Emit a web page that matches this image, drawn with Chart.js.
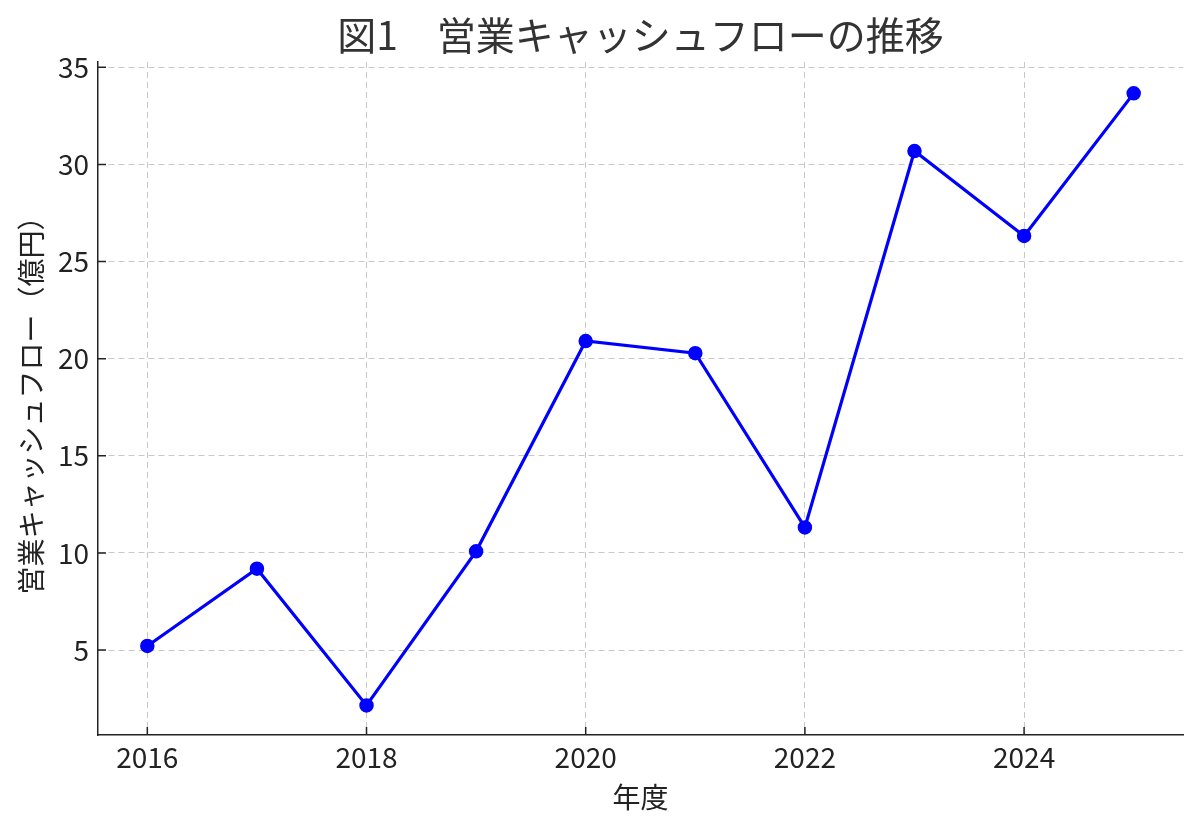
<!DOCTYPE html>
<html>
<head>
<meta charset="utf-8">
<script src="https://cdn.jsdelivr.net/npm/chart.js@4/dist/chart.umd.min.js"></script>
<style>
  html, body { margin: 0; padding: 0; background: #fff; }
  #wrap { width: 1200px; height: 832px; }
</style>
</head>
<body>
<div id="wrap"><canvas id="cfChart" width="1200" height="832"></canvas></div>
<script>
const years = [2016, 2017, 2018, 2019, 2020, 2021, 2022, 2023, 2024, 2025];
const cashFlow = [5.21, 9.19, 2.15, 10.08, 20.91, 20.28, 11.31, 30.69, 26.32, 33.66];
const xTicks = [2016, 2018, 2020, 2022, 2024];
const yTicks = [5, 10, 15, 20, 25, 30, 35];

const chartTitle = '図1　営業キャッシュフローの推移';
const xTitle = '年度';
const yTitle = '営業キャッシュフロー（億円）';

const FONT = "'Noto Sans CJK JP', 'Noto Sans', sans-serif";
const TEXT = '#222222';

// matplotlib style: title centred on the axes, ticks pointing inward
const extras = {
    id: 'extras',
    afterDraw(chart) {
        const { ctx, chartArea: a, scales: { x, y } } = chart;
        ctx.save();
        ctx.strokeStyle = '#222';
        ctx.lineWidth = 1.5;
        ctx.beginPath();
        x.ticks.forEach(t => {
            const px = x.getPixelForValue(t.value);
            ctx.moveTo(px, a.bottom);
            ctx.lineTo(px, a.bottom - 8);
        });
        y.ticks.forEach(t => {
            const py = y.getPixelForValue(t.value);
            ctx.moveTo(a.left, py);
            ctx.lineTo(a.left + 8, py);
        });
        ctx.stroke();

        ctx.fillStyle = '#333';
        ctx.font = '39px ' + FONT;
        ctx.textAlign = 'center';
        ctx.textBaseline = 'middle';
        ctx.fillText(chartTitle, (a.left + a.right) / 2, 35);
        ctx.restore();
    }
};

new Chart(document.getElementById('cfChart'), {
    type: 'line',
    data: {
        datasets: [{
            label: yTitle,
            data: years.map((yr, i) => ({ x: yr, y: cashFlow[i] })),
            borderColor: '#0000ff',
            backgroundColor: '#0000ff',
            borderWidth: 3.2,
            pointRadius: 6.5,
            pointBorderWidth: 1.5,
            pointBackgroundColor: '#0000ff',
            pointBorderColor: '#0000ff',
            tension: 0,
            clip: false,
        }]
    },
    options: {
        responsive: false,
        animation: false,
        layout: { padding: { top: 62, right: 17, bottom: 0, left: 0 } },
        plugins: {
            legend: { display: false },
            tooltip: { enabled: false },
            title: { display: false }
        },
        scales: {
            x: {
                type: 'linear',
                min: 2015.55,
                max: 2025.45,
                afterBuildTicks: (scale) => { scale.ticks = xTicks.map(v => ({ value: v })); },
                afterFit: (scale) => { scale.height = 97; },
                grid: { color: '#c8c8c8', lineWidth: 1, drawTicks: false },
                border: { display: true, color: '#222', width: 1.5, dash: [6, 4] },
                ticks: {
                    color: TEXT,
                    font: { family: FONT, size: 28 },
                    padding: 6,
                    maxRotation: 0,
                    callback: (v) => String(v)
                },
                title: {
                    display: true,
                    text: xTitle,
                    color: TEXT,
                    font: { family: FONT, size: 28 },
                    padding: { top: 0, bottom: 18 }
                }
            },
            y: {
                type: 'linear',
                min: 0.625,
                max: 35.275,
                afterBuildTicks: (scale) => { scale.ticks = yTicks.map(v => ({ value: v })); },
                afterFit: (scale) => { scale.width = 98; },
                grid: { color: '#c8c8c8', lineWidth: 1, drawTicks: false },
                border: { display: true, color: '#222', width: 1.5, dash: [6, 4] },
                ticks: {
                    color: TEXT,
                    font: { family: FONT, size: 28 },
                    padding: 9,
                    callback: (v) => String(v)
                },
                title: {
                    display: true,
                    text: yTitle,
                    color: TEXT,
                    font: { family: FONT, size: 28 },
                    padding: { top: 15, bottom: 0 }
                }
            }
        }
    },
    plugins: [extras]
});
</script>
</body>
</html>
